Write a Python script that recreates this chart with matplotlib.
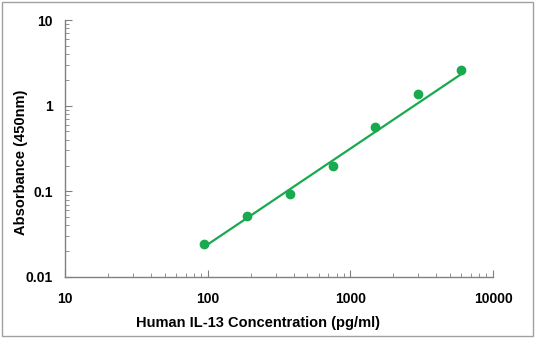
import numpy as np
import matplotlib
matplotlib.use("Agg")
from matplotlib import pyplot as plt
from matplotlib.ticker import LogLocator, NullFormatter, FixedLocator, FixedFormatter

plt.rcParams['font.family'] = ['Liberation Sans', 'DejaVu Sans']

# standard curve data
conc = [93.75, 187.5, 375, 750, 1500, 3000, 6000]
od = [0.024, 0.051, 0.0925, 0.196, 0.56, 1.38, 2.59]

# fitted line end points
fit_conc = [93.75, 6000]
fit_od = [0.0223, 2.34]

xticks = [10, 100, 1000, 10000]
xlabels = ['10', '100', '1000', '10000']
yticks = [0.01, 0.1, 1, 10]
ylabels = ['0.01', '0.1', '1', '10']

green = '#19a94f'

fig = plt.figure(figsize=(5.35, 3.38), dpi=100)
ax = fig.add_axes([65/535, 1-277/338, 428/535, 257/338])

ax.plot(fit_conc, fit_od, '-', color=green, lw=1.6)
ax.plot(conc, od, 'o', color=green, ms=6, mec=green)

ax.set_xscale('log')
ax.set_yscale('log')
ax.set_xlim(10, 10000)
ax.set_ylim(0.01, 10)

ax.xaxis.set_major_locator(FixedLocator(xticks))
ax.xaxis.set_major_formatter(FixedFormatter(xlabels))
ax.yaxis.set_major_locator(FixedLocator(yticks))
ax.yaxis.set_major_formatter(FixedFormatter(ylabels))
ax.xaxis.set_minor_locator(LogLocator(base=10, subs=np.arange(2, 10)))
ax.yaxis.set_minor_locator(LogLocator(base=10, subs=np.arange(2, 10)))
ax.xaxis.set_minor_formatter(NullFormatter())
ax.yaxis.set_minor_formatter(NullFormatter())

for s in ['top', 'right']:
    ax.spines[s].set_visible(False)
for s in ['left', 'bottom']:
    ax.spines[s].set_color('#808080')
    ax.spines[s].set_linewidth(1.0)

ax.tick_params(which='major', direction='in', length=5, color='#808080', labelsize=10)
ax.tick_params(which='minor', direction='in', length=3, color='#808080')
ax.tick_params(axis='x', which='major', pad=11)
ax.tick_params(axis='y', which='major', pad=9)
for lab in ax.get_xticklabels() + ax.get_yticklabels():
    lab.set_fontweight('bold')

ax.set_xlabel('Human IL-13 Concentration (pg/ml)', fontsize=10.5, fontweight='bold')
ax.set_ylabel('Absorbance (450nm)', fontsize=10.5, fontweight='bold')
ax.xaxis.set_label_coords(0.45, -0.152)
ax.yaxis.set_label_coords(-0.086, 0.447)

# thin frame round the picture
fig.patches.append(plt.Rectangle((2/535, 2/338), 531/535, 334/338, transform=fig.transFigure,
                                 fill=False, edgecolor='#a0a0a0', lw=1.0))

fig.savefig('out.png', dpi=100)
